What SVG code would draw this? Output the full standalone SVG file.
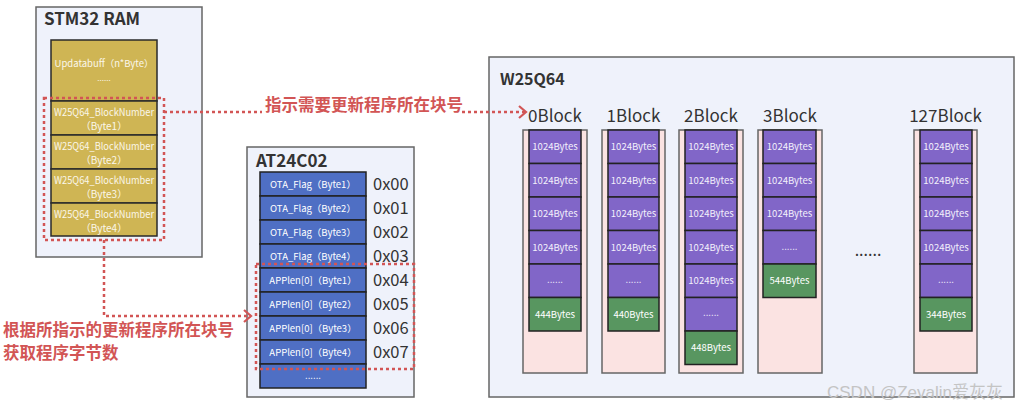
<svg xmlns="http://www.w3.org/2000/svg" width="1022" height="405" viewBox="0 0 1022 405">
<style>
text{font-family:"Noto Sans CJK SC","Noto Sans",sans-serif}
.box{fill:#eff2fb;stroke:#666;stroke-width:1.5}
.title{font-weight:bold;font-size:17px;fill:#333}
.y{fill:#cfb554;stroke:#2a2a2a;stroke-width:1.5}
.b{fill:#4f6fc4;stroke:#222;stroke-width:1.5}
.p{fill:#8166c8;stroke:#222;stroke-width:1.5}
.g{fill:#589660;stroke:#222;stroke-width:1.5}
.pk{fill:#fbe3e2;stroke:#666;stroke-width:1.5}
.wt{fill:#fbf7ea;font-size:10px;text-anchor:middle}
.bt{fill:#fff;font-size:9.5px;text-anchor:middle}
.pt{fill:#f3f0fb;font-size:9.5px;text-anchor:middle}
.addr{font-size:16.5px;fill:#333}
.blk{font-size:17px;fill:#333;text-anchor:middle}
.dot{fill:none;stroke:#d25555;stroke-width:2.5;stroke-dasharray:3 3}
.lbl{fill:#d25555;font-weight:bold;font-size:16.5px}
</style>
<defs>
<marker id="arr" markerWidth="12" markerHeight="14" refX="9" refY="7" orient="auto" markerUnits="userSpaceOnUse">
<path d="M2,1 L9,7 L2,13" fill="none" stroke="#d25555" stroke-width="2.2"/>
</marker>
</defs>

<g id="stm32">
<rect class="box" x="36" y="7" width="166" height="250"/>
<text class="title" x="44" y="25">STM32 RAM</text>
<rect class="y" x="51" y="40" width="106" height="61"/>
<text class="wt" x="104" y="67" style="font-size:9.5px">Updatabuff（n*Byte）</text>
<text class="wt" x="104" y="81" style="font-size:8px">......</text>
<rect class="y" x="51" y="101" width="106" height="34"/>
<text class="wt" x="104" y="116" textLength="100" lengthAdjust="spacingAndGlyphs">W25Q64_BlockNumber</text>
<text class="wt" x="104" y="130">（Byte1）</text>
<rect class="y" x="51" y="135" width="106" height="34"/>
<text class="wt" x="104" y="150" textLength="100" lengthAdjust="spacingAndGlyphs">W25Q64_BlockNumber</text>
<text class="wt" x="104" y="164">（Byte2）</text>
<rect class="y" x="51" y="169" width="106" height="34"/>
<text class="wt" x="104" y="184" textLength="100" lengthAdjust="spacingAndGlyphs">W25Q64_BlockNumber</text>
<text class="wt" x="104" y="198">（Byte3）</text>
<rect class="y" x="51" y="203" width="106" height="33"/>
<text class="wt" x="104" y="218" textLength="100" lengthAdjust="spacingAndGlyphs">W25Q64_BlockNumber</text>
<text class="wt" x="104" y="232">（Byte4）</text>
</g>

<g id="at24c02">
<rect class="box" x="247" y="147" width="167" height="250"/>
<text class="title" x="256" y="167">AT24C02</text>
<rect class="b" x="260" y="172" width="106" height="24"/><text class="bt" x="313" y="188">OTA_Flag（Byte1）</text>
<rect class="b" x="260" y="196" width="106" height="24"/><text class="bt" x="313" y="212">OTA_Flag（Byte2）</text>
<rect class="b" x="260" y="220" width="106" height="24"/><text class="bt" x="313" y="236">OTA_Flag（Byte3）</text>
<rect class="b" x="260" y="244" width="106" height="24"/><text class="bt" x="313" y="260">OTA_Flag（Byte4）</text>
<rect class="b" x="260" y="268" width="106" height="24"/><text class="bt" x="313" y="284">APPlen[0]（Byte1）</text>
<rect class="b" x="260" y="292" width="106" height="24"/><text class="bt" x="313" y="308">APPlen[0]（Byte2）</text>
<rect class="b" x="260" y="316" width="106" height="24"/><text class="bt" x="313" y="332">APPlen[0]（Byte3）</text>
<rect class="b" x="260" y="340" width="106" height="24"/><text class="bt" x="313" y="356">APPlen[0]（Byte4）</text>
<rect class="b" x="260" y="364" width="106" height="24"/><text class="bt" x="313" y="379">......</text>
<text class="addr" x="373" y="190">0x00</text>
<text class="addr" x="373" y="214">0x01</text>
<text class="addr" x="373" y="238">0x02</text>
<text class="addr" x="373" y="262">0x03</text>
<text class="addr" x="373" y="286">0x04</text>
<text class="addr" x="373" y="310">0x05</text>
<text class="addr" x="373" y="334">0x06</text>
<text class="addr" x="373" y="358">0x07</text>
</g>

<g id="w25q64">
<rect class="box" x="489" y="57" width="525" height="340"/>
<text class="title" x="500" y="85" style="font-size:16px">W25Q64</text>

<g id="block0">
<text class="blk" x="555" y="122">0Block</text>
<rect class="pk" x="523" y="130" width="64" height="243"/>
<rect class="p" x="529" y="130" width="52" height="33.5"/><text class="pt" x="555" y="150">1024Bytes</text>
<rect class="p" x="529" y="163.5" width="52" height="33.5"/><text class="pt" x="555" y="184">1024Bytes</text>
<rect class="p" x="529" y="197" width="52" height="33.5"/><text class="pt" x="555" y="217">1024Bytes</text>
<rect class="p" x="529" y="230.5" width="52" height="33.5"/><text class="pt" x="555" y="251">1024Bytes</text>
<rect class="p" x="529" y="264" width="52" height="33.5"/><text class="pt" x="555" y="283">......</text>
<rect class="g" x="529" y="297.5" width="52" height="33.5"/><text class="bt" x="555" y="318">444Bytes</text>
</g>

<g id="block1">
<text class="blk" x="633.5" y="122">1Block</text>
<rect class="pk" x="602" y="130" width="63" height="243"/>
<rect class="p" x="608" y="130" width="51" height="33.5"/><text class="pt" x="633.5" y="150">1024Bytes</text>
<rect class="p" x="608" y="163.5" width="51" height="33.5"/><text class="pt" x="633.5" y="184">1024Bytes</text>
<rect class="p" x="608" y="197" width="51" height="33.5"/><text class="pt" x="633.5" y="217">1024Bytes</text>
<rect class="p" x="608" y="230.5" width="51" height="33.5"/><text class="pt" x="633.5" y="251">1024Bytes</text>
<rect class="p" x="608" y="264" width="51" height="33.5"/><text class="pt" x="633.5" y="283">......</text>
<rect class="g" x="608" y="297.5" width="51" height="33.5"/><text class="bt" x="633.5" y="318">440Bytes</text>
</g>

<g id="block2">
<text class="blk" x="711" y="122">2Block</text>
<rect class="pk" x="679" y="130" width="64" height="243"/>
<rect class="p" x="685" y="130" width="52" height="33.5"/><text class="pt" x="711" y="150">1024Bytes</text>
<rect class="p" x="685" y="163.5" width="52" height="33.5"/><text class="pt" x="711" y="184">1024Bytes</text>
<rect class="p" x="685" y="197" width="52" height="33.5"/><text class="pt" x="711" y="217">1024Bytes</text>
<rect class="p" x="685" y="230.5" width="52" height="33.5"/><text class="pt" x="711" y="251">1024Bytes</text>
<rect class="p" x="685" y="264" width="52" height="33.5"/><text class="pt" x="711" y="284">1024Bytes</text>
<rect class="p" x="685" y="297.5" width="52" height="33.5"/><text class="pt" x="711" y="316">......</text>
<rect class="g" x="685" y="331" width="52" height="33.5"/><text class="bt" x="711" y="351">448Bytes</text>
</g>

<g id="block3">
<text class="blk" x="790" y="122">3Block</text>
<rect class="pk" x="758" y="130" width="64" height="243"/>
<rect class="p" x="763" y="130" width="53" height="33.5"/><text class="pt" x="789.5" y="150">1024Bytes</text>
<rect class="p" x="763" y="163.5" width="53" height="33.5"/><text class="pt" x="789.5" y="184">1024Bytes</text>
<rect class="p" x="763" y="197" width="53" height="33.5"/><text class="pt" x="789.5" y="217">1024Bytes</text>
<rect class="p" x="763" y="230.5" width="53" height="33.5"/><text class="pt" x="789.5" y="250">......</text>
<rect class="g" x="763" y="264" width="53" height="33.5"/><text class="bt" x="789.5" y="284">544Bytes</text>
</g>

<text x="868" y="256" style="font-size:16px;fill:#333;text-anchor:middle">......</text>

<g id="block127">
<text class="blk" x="945.5" y="122">127Block</text>
<rect class="pk" x="914" y="130" width="63" height="243"/>
<rect class="p" x="920" y="130" width="52" height="33.5"/><text class="pt" x="946" y="150">1024Bytes</text>
<rect class="p" x="920" y="163.5" width="52" height="33.5"/><text class="pt" x="946" y="184">1024Bytes</text>
<rect class="p" x="920" y="197" width="52" height="33.5"/><text class="pt" x="946" y="217">1024Bytes</text>
<rect class="p" x="920" y="230.5" width="52" height="33.5"/><text class="pt" x="946" y="251">1024Bytes</text>
<rect class="p" x="920" y="264" width="52" height="33.5"/><text class="pt" x="946" y="283">......</text>
<rect class="g" x="920" y="297.5" width="52" height="33.5"/><text class="bt" x="946" y="318">344Bytes</text>
</g>
</g>

<g id="connectors">
<rect class="dot" x="44" y="98" width="120" height="142"/>
<rect class="dot" x="256" y="264" width="158" height="105"/>
<path class="dot" d="M164,112 H262"/>
<path class="dot" d="M462,112 H526" marker-end="url(#arr)"/>
<path class="dot" d="M104,240 V316 H251" marker-end="url(#arr)"/>
<text class="lbl" x="265" y="111">指示需要更新程序所在块号</text>
<text class="lbl" x="3" y="336">根据所指示的更新程序所在块号</text>
<text class="lbl" x="3" y="359">获取程序字节数</text>
</g>

<text x="827" y="398" style="font-family:'Liberation Sans','Noto Sans CJK SC',sans-serif;font-size:17px;fill:#c4c4c4">CSDN @Zevalin爱灰灰</text>
</svg>
